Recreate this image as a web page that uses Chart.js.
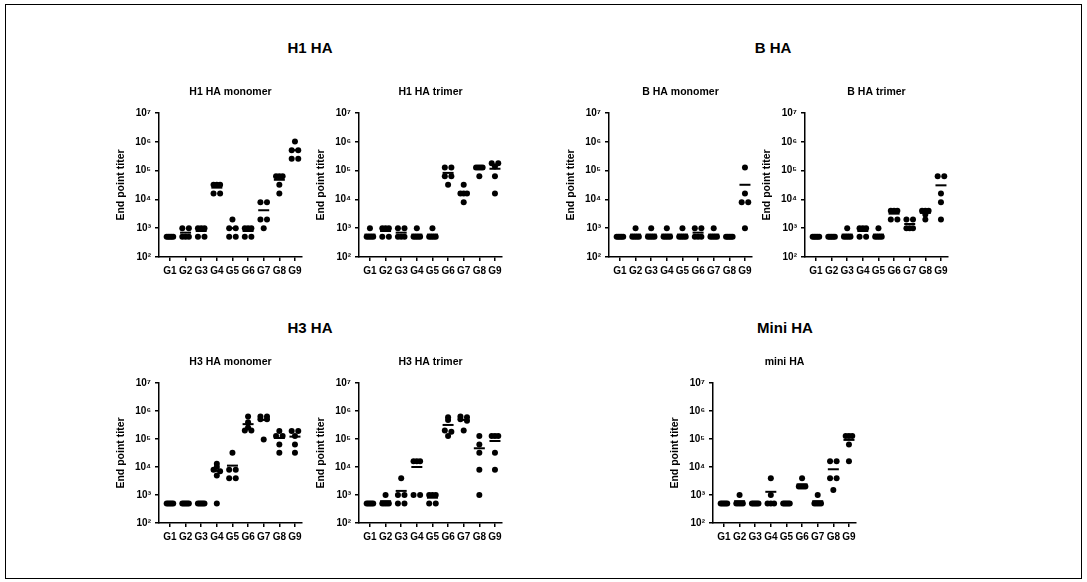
<!DOCTYPE html>
<html>
<head>
<meta charset="utf-8">
<script src="https://cdn.jsdelivr.net/npm/chart.js@4.4.0/dist/chart.umd.min.js"></script>
<style>
  body { margin: 0; background: #fff; }
  #figura { position: relative; width: 1087px; height: 582px; overflow: hidden; }
  .moldura { position: absolute; left: 5px; top: 4px; width: 1077px; height: 575px; border: 1.5px solid #000; box-sizing: border-box; }
  .grupo { position: absolute; font-family: 'Liberation Sans', Arial, sans-serif; font-size: 15px; font-weight: bold; transform: translate(-50%, -50%); white-space: nowrap; }
  canvas { position: absolute; }
</style>
</head>
<body>
<div id="figura">
  <div class="moldura"></div>
  <div class="grupo" style="left:310px; top:47px">H1 HA</div>
  <div class="grupo" style="left:773px; top:47px">B HA</div>
  <div class="grupo" style="left:310px; top:327px">H3 HA</div>
  <div class="grupo" style="left:785px; top:327px">Mini HA</div>

  <canvas id="h1mono" width="215" height="202" style="left:99px; top:80px"></canvas>
  <canvas id="h1tri" width="215" height="202" style="left:299px; top:80px"></canvas>
  <canvas id="bmono" width="215" height="202" style="left:549px; top:80px"></canvas>
  <canvas id="btri" width="215" height="202" style="left:745px; top:80px"></canvas>
  <canvas id="h3mono" width="215" height="198" style="left:99px; top:350px"></canvas>
  <canvas id="h3tri" width="215" height="198" style="left:299px; top:350px"></canvas>
  <canvas id="mini" width="215" height="198" style="left:653px; top:350px"></canvas>
</div>

<script>
// grupos de camundongos
const categorias = ['G1', 'G2', 'G3', 'G4', 'G5', 'G6', 'G7', 'G8', 'G9'];

// titulos por grupo (cada linha = um grupo G1..G9)
const h1Monomero = [
    [500, 500, 500, 500, 500],
    [1000, 1000, 500, 500, 500],
    [1000, 1000, 1000, 500, 500],
    [32000, 32000, 32000, 16000, 16000],
    [2000, 1000, 1000, 500, 500],
    [1000, 1000, 1000, 500, 500],
    [8000, 8000, 2000, 2000, 1000],
    [64000, 64000, 64000, 32000, 16000],
    [1024000, 512000, 512000, 256000, 256000]
];
const h1Trimero = [
    [1000, 500, 500, 500, 500],
    [1000, 1000, 1000, 500, 500],
    [1000, 1000, 500, 500, 500],
    [1000, 500, 500, 500, 500],
    [1000, 500, 500, 500, 500],
    [128000, 128000, 64000, 64000, 32000],
    [32000, 16000, 16000, 16000, 8000],
    [128000, 128000, 128000, 128000, 64000],
    [180000, 180000, 140000, 64000, 16000]
];
const bMonomero = [
    [500, 500, 500, 500, 500],
    [1000, 500, 500, 500, 500],
    [1000, 500, 500, 500, 500],
    [1000, 500, 500, 500, 500],
    [1000, 500, 500, 500, 500],
    [1000, 1000, 500, 500, 500],
    [1000, 500, 500, 500, 500],
    [500, 500, 500, 500, 500],
    [128000, 16000, 8000, 8000, 1000]
];
const bTrimero = [
    [500, 500, 500, 500, 500],
    [500, 500, 500, 500, 500],
    [1000, 500, 500, 500, 500],
    [1000, 1000, 1000, 500, 500],
    [1000, 500, 500, 500, 500],
    [4000, 4000, 4000, 2000, 2000],
    [2000, 2000, 1000, 1000, 1000],
    [4000, 4000, 4000, 3000, 2000],
    [64000, 64000, 16000, 8000, 2000]
];
const h3Monomero = [
    [500, 500, 500, 500, 500],
    [500, 500, 500, 500, 500],
    [500, 500, 500, 500, 500],
    [13000, 10000, 8000, 7000, 5000, 500],
    [32000, 8000, 8000, 4000, 4000],
    [640000, 400000, 256000, 200000, 200000],
    [640000, 640000, 512000, 512000, 96000],
    [192000, 128000, 128000, 64000, 32000],
    [192000, 192000, 128000, 64000, 32000]
];
const h3Trimero = [
    [500, 500, 500, 500, 500],
    [1000, 500, 500, 500, 500],
    [4000, 1000, 1000, 500, 500],
    [16000, 16000, 16000, 1000, 1000],
    [1000, 1000, 1000, 500, 500],
    [600000, 480000, 200000, 180000, 128000],
    [640000, 600000, 512000, 450000, 200000],
    [128000, 64000, 32000, 8000, 1000],
    [128000, 128000, 128000, 32000, 8000]
];
const miniHA = [
    [500, 500, 500, 500, 500],
    [1000, 500, 500, 500, 500],
    [500, 500, 500, 500, 500],
    [4000, 1000, 500, 500, 500],
    [500, 500, 500, 500, 500],
    [4000, 2000, 2000, 2000, 2000],
    [1000, 500, 500, 500, 500],
    [16000, 16000, 4000, 4000, 1500],
    [128000, 128000, 128000, 64000, 16000]
];

const expoentes = [2, 3, 4, 5, 6, 7];
const sobrescrito = '⁰¹²³⁴⁵⁶⁷⁸⁹';

Chart.defaults.font.family = "'Liberation Sans', Arial, sans-serif";
Chart.defaults.color = '#000';

// espalha os pontos iguais (ou muito proximos) lado a lado, como num dot plot
function espalhar(grupos) {
    const pontos = [];
    grupos.forEach((valores, i) => {
        const ordenados = [...valores].sort((a, b) => b - a);
        let k = 0;
        while (k < ordenados.length) {
            let fim = k + 1;
            while (fim < ordenados.length && Math.log10(ordenados[k]) - Math.log10(ordenados[fim]) < 0.08) fim++;
            const n = fim - k;
            for (let j = k; j < fim; j++) {
                const dx = n === 1 ? 0 : -0.21 + 0.42 * (j - k) / (n - 1);
                pontos.push({ x: i + 1 + dx, y: ordenados[j] });
            }
            k = fim;
        }
    });
    return pontos;
}

function medias(grupos) {
    return grupos.map((v, i) => ({ x: i + 1, y: v.reduce((a, b) => a + b, 0) / v.length }));
}

function painel(id, titulo, grupos) {
    return new Chart(document.getElementById(id), {
        type: 'scatter',
        data: {
            datasets: [{
                data: medias(grupos),
                pointStyle: 'line',
                pointRadius: 5.5,
                pointBorderWidth: 2,
                borderColor: '#000',
                backgroundColor: '#000'
            },
            {
                data: espalhar(grupos),
                pointStyle: 'circle',
                pointRadius: 3,
                pointBorderWidth: 0,
                borderColor: '#000',
                backgroundColor: '#000'
            }]
        },
        options: {
            responsive: false,
            animation: false,
            layout: { padding: { right: 12 } },
            plugins: {
                legend: { display: false },
                tooltip: { enabled: false },
                title: {
                    display: true,
                    text: titulo,
                    fullSize: false,
                    color: '#000',
                    font: { size: 10.5, weight: 'bold' },
                    padding: { top: 6, bottom: 14.4 }
                }
            },
            scales: {
                x: {
                    type: 'linear',
                    min: 0.3,
                    max: 9.45,
                    afterFit: s => { s.height = 25; },
                    border: { color: '#000', width: 1.5 },
                    grid: { drawOnChartArea: false, tickLength: 4, color: '#000', lineWidth: 1.5 },
                    ticks: {
                        stepSize: 1,
                        includeBounds: false,
                        autoSkip: false,
                        maxRotation: 0,
                        padding: 4,
                        color: '#000',
                        font: { size: 10, weight: 'bold' },
                        callback: v => {
                            const i = Math.round(v);
                            if (Math.abs(v - i) > 1e-6 || i < 1 || i > categorias.length) return null;
                            return categorias[i - 1];
                        }
                    }
                },
                y: {
                    type: 'logarithmic',
                    min: Math.pow(10, expoentes[0]),
                    max: Math.pow(10, expoentes[expoentes.length - 1]),
                    afterFit: s => { s.width = 60; },
                    border: { color: '#000', width: 1.5 },
                    grid: { drawOnChartArea: false, tickLength: 4, color: '#000', lineWidth: 1.5 },
                    ticks: {
                        autoSkip: false,
                        padding: 4,
                        color: '#000',
                        font: { size: 10, weight: 'bold' },
                        callback: v => {
                            const e = Math.log10(v);
                            const r = Math.round(e);
                            if (Math.abs(e - r) > 1e-9 || !expoentes.includes(r)) return null;
                            return '10' + sobrescrito[r];
                        }
                    },
                    title: {
                        display: true,
                        text: 'End point titer',
                        color: '#000',
                        font: { size: 10.5, weight: 'bold' },
                        padding: { top: 16, bottom: 0 }
                    }
                }
            }
        }
    });
}

painel('h1mono', 'H1 HA monomer', h1Monomero);
painel('h1tri', 'H1 HA trimer', h1Trimero);
painel('bmono', 'B HA monomer', bMonomero);
painel('btri', 'B HA trimer', bTrimero);
painel('h3mono', 'H3 HA monomer', h3Monomero);
painel('h3tri', 'H3 HA trimer', h3Trimero);
painel('mini', 'mini HA', miniHA);
</script>
</body>
</html>
